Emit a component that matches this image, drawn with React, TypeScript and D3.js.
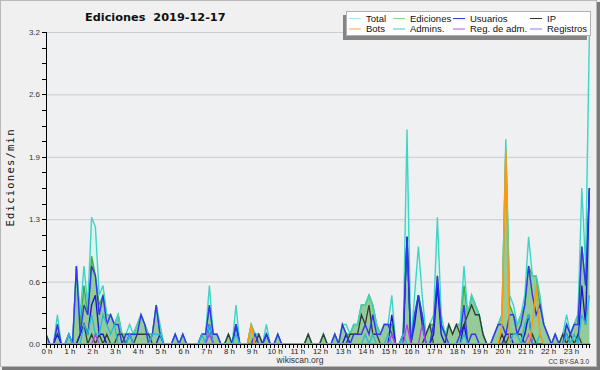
import React from "react";
import * as d3 from "d3";

const W = 600;
const H = 370;

// Tick labels
const HOUR_LABELS = d3.range(24).map((h) => `${h} h`);
const Y_TICKS = [0, 0.64, 1.28, 1.92, 2.56, 3.2];
const Y_TICK_LABELS = ["0.0", "0.6", "1.3", "1.9", "2.6", "3.2"];

// Values per 10 minutes (edits/min), 6 per hour
const total = [
  .1,0,0,.3,0,0, .1,0,.8,.3,.8,.4, 1.3,1.2,.5,.6,.3,.3, .2,.3,.1,.1,.2,.1,
  .2,.3,.2,.1,.1,.4, .2,0,0,0,.1,0, .1,0,0,0,0,.1, .1,.6,.1,.1,0,0,
  .1,0,.4,0,0,0, .2,.1,.1,0,.2,0, 0,.1,0,0,0,0, 0,0,0,.1,0,0,
  0,.1,0,0,.1,0, .2,.2,.1,.2,.2,.4, .4,.5,.4,.2,.1,.2, .2,.5,0,0,.1,2.2,
  0,.5,1.0,.5,.1,.2, .3,1.3,.3,.1,.2,.1, .2,.2,.8,.3,.5,.4, .3,.1,0,0,.1,.2,
  .3,2.1,.5,.4,.2,.3, .5,1.1,.7,.7,.5,.2, .1,0,.1,0,.1,.3, .1,.2,.3,1.6,.8,3.2,
];
const edits = [
  .1,0,0,.2,0,0, .1,0,.8,.2,.6,.3, .9,.7,.4,.5,.3,.3, .2,.3,.1,.1,.1,.1,
  .2,.3,.2,.1,.1,.4, .1,0,0,0,.1,0, .1,0,0,0,0,.1, .1,.4,.1,.1,0,0,
  .1,0,.2,0,0,0, .2,.1,.1,0,.1,0, 0,.1,0,0,0,0, 0,0,0,.1,0,0,
  0,.1,0,0,.1,0, .2,.1,.1,.2,.2,.4, .4,.5,.4,.2,.1,.2, .2,.2,0,0,.1,1.1,
  0,.3,.5,.3,.1,.2, .2,.7,.2,.1,.2,.1, .2,.2,.6,.3,.5,.4, .3,.1,0,0,.1,.2,
  .3,2.0,.4,.3,.2,.3, .4,.8,.7,.7,.4,.2, .1,0,.1,0,.1,.2, .1,.2,.3,1.0,.6,1.6,
];
const users = [
  .1,0,0,.2,0,0, .1,0,.8,.1,.4,.3, .8,.7,.3,.5,.2,.3, .2,.2,0,.1,.1,.1,
  .1,.3,.2,0,.1,.4, .1,0,0,0,.1,0, .1,0,0,0,0,.1, .1,.4,.1,.1,0,0,
  0,0,.2,0,0,0, 0,.1,0,0,.1,0, 0,.1,0,0,0,0, 0,0,0,0,0,0,
  0,0,0,0,.1,0, .2,.1,0,.1,.1,.1, .2,.1,.3,.1,.1,.2, .2,.1,0,0,.1,1.1,
  0,.3,.5,.3,0,0, .2,.7,.2,.1,0,0, 0,.1,.4,0,.1,.1, 0,0,0,0,.1,.2,
  .2,.1,.3,.3,.1,.2, .4,.8,.5,.3,.4,.2, .1,0,.1,0,0,.2, .1,.2,.2,1.0,.6,1.6,
];
const ip = [
  0,0,0,0,0,0, 0,0,0,.1,.2,0, .1,0,.1,0,.1,0, 0,.1,.1,0,0,0,
  .1,.1,.1,.1,0,0, 0,0,0,0,0,0, 0,0,0,0,0,0, 0,0,0,0,0,0,
  .1,0,0,0,0,0, 0,0,.1,0,0,0, 0,0,0,0,0,0, 0,0,0,.1,0,0,
  0,.1,0,0,0,0, 0,0,.1,.1,.1,.3, .2,.4,.1,.1,0,0, 0,0,0,0,0,0,
  0,0,0,0,.1,.2, 0,0,0,0,.2,.1, .2,.1,.2,.3,.4,.3, .3,.1,0,0,0,0,
  .1,0,.1,.1,.1,.1, 0,0,.1,0,0,0, 0,0,0,0,.1,0, .1,0,.1,0,0,0,
];
const bots = [
  0,0,0,0,0,0, 0,0,0,0,0,0, 0,0,0,0,0,0, 0,0,0,0,0,0,
  0,0,0,0,0,0, 0,0,0,0,0,0, 0,0,0,0,0,0, 0,0,0,0,0,0,
  0,0,0,0,0,0, .2,0,0,0,0,0, 0,0,0,0,0,0, 0,0,0,0,0,0,
  0,0,0,0,0,0, 0,0,0,0,0,0, 0,0,0,0,0,0, 0,0,0,0,0,0,
  0,0,0,0,0,0, 0,0,0,0,0,0, 0,0,0,0,0,0, 0,0,0,0,0,0,
  .2,2.0,0,0,0,0, 0,0,.2,.6,.1,0, 0,0,0,0,0,0, 0,0,0,0,0,0,
];
const admins = [
  0,0,0,0,0,0, .1,0,0,0,.2,.1, .3,.1,.1,.3,.2,.1, .2,0,0,0,.1,0,
  0,0,0,0,.1,.1, .1,0,0,0,0,0, 0,0,0,0,0,.1, 0,.2,0,0,0,0,
  0,0,.1,0,0,0, 0,0,0,0,0,0, 0,0,0,0,0,0, 0,0,0,0,0,0,
  0,0,0,0,0,0, 0,0,0,0,0,0, .1,0,.1,0,0,0, .1,0,0,0,.1,0,
  0,0,0,0,0,0, 0,0,0,0,0,0, 0,0,.1,0,0,0, 0,0,0,0,0,0,
  0,0,0,.1,.1,0, .2,.3,0,0,.1,0, 0,0,0,0,0,.1, 0,.1,0,.3,.2,.5,
];
const adminLogs = [
  0,0,0,0,0,0, 0,0,0,0,0,0, 0,.1,0,0,0,0, 0,0,0,0,0,0,
  0,0,0,0,0,0, 0,0,0,0,0,0, 0,0,0,0,0,0, 0,.1,0,0,0,0,
  0,0,0,0,0,0, 0,0,0,0,0,0, 0,0,0,0,0,0, 0,0,0,0,0,0,
  0,0,0,0,0,0, 0,0,0,0,0,0, 0,0,0,0,0,0, 0,.1,0,0,0,.2,
  0,0,0,.2,0,0, 0,0,0,0,0,0, 0,0,0,0,0,0, 0,0,0,0,0,0,
  0,0,0,0,0,0, 0,.1,0,0,0,0, 0,0,0,0,0,0, 0,0,0,0,0,0,
];
const logs = [
  0,0,0,.1,0,0, 0,0,0,.1,.2,.1, .4,.5,.1,.1,0,0, 0,0,0,0,.1,0,
  0,0,0,0,0,0, .1,0,0,0,0,0, 0,0,0,0,0,0, 0,.2,0,0,0,0,
  0,0,.2,0,0,0, 0,0,0,0,.1,0, 0,0,0,0,0,0, 0,0,0,0,0,0,
  0,0,0,0,0,0, 0,.1,0,0,0,0, 0,0,0,0,0,0, 0,.3,0,0,0,1.1,
  0,.2,.5,.2,0,0, .1,.6,.1,0,0,0, 0,0,.2,0,0,0, 0,0,0,0,0,0,
  0,.1,.1,0,0,0, .1,.3,0,0,0,0, 0,0,0,0,0,.1, 0,0,0,.6,.2,1.6,
];

const LEGEND_NAMES = ["Total", "Ediciones", "Usuarios", "IP", "Bots", "Admins.", "Reg. de adm.", "Registros"];
const LEGEND_COLORS = ["#a8e8e4", "#88d488", "#3a3ae8", "#333333", "#f8a040", "#3cc8d8", "#c050e8", "#8080f8"];

const X0 = 46;
const X1 = 589.4;
const Y0 = 344;
const Y1 = 32;

export default function App() {
  const n = total.length;
  const x = d3.scaleLinear().domain([0, n - 1]).range([X0, X1]);
  const y = d3.scaleLinear().domain([0, 3.2]).range([Y0, Y1]);
  const idx = d3.range(n);

  const area = (vals: number[]) =>
    d3.area<number>().x((i) => x(i)).y0(Y0).y1((i) => y(vals[i]))(idx) || "";
  const line = (vals: number[]) =>
    d3.line<number>().x((i) => x(i)).y((i) => y(vals[i]))(idx) || "";

  const minorTicks = d3.range(0, 3.2001, 0.16);
  const hourX = (h: number) => x(h * 6);

  const lineSeries: [number[], string, number][] = [
    [ip, "#333a33", 1.3],
    [logs, "#1a1acc", 1.4],
    [users, "#3434f4", 1.4],
    [admins, "#22bbdd", 1.3],
    [adminLogs, "#b840e8", 1.3],
    [bots, "#ff9a10", 1.5],
  ];

  return (
    <svg width={W} height={H} style={{ display: "block", position: "absolute", left: 0, top: 0 }}>
      <defs>
        <clipPath id="plotclip">
          <rect x={X0} y={Y1 - 1} width={X1 - X0 + 2} height={Y0 - Y1 + 1} />
        </clipPath>
      </defs>
      {/* frame */}
      <rect x={0} y={0} width={W} height={H} fill="#f0f0f0" />
      <rect x={W - 3} y={2} width={3} height={H - 2} fill="#7a7a7a" />
      <rect x={2} y={H - 3} width={W - 2} height={3} fill="#7a7a7a" />
      <rect x={0.5} y={0.5} width={W - 4} height={H - 4} fill="none" stroke="#b8b8b8" />
      {/* plot background */}
      <rect x={X0} y={Y1} width={X1 - X0 + 1} height={Y0 - Y1} fill="#eef0f2" />
      {/* grid */}
      {Y_TICKS.slice(1).map((t, k) => (
        <line key={k} x1={X0} x2={X1 + 1} y1={y(t) + 0.5} y2={y(t) + 0.5} stroke="#cccccc" strokeWidth={1} />
      ))}
      <g clipPath="url(#plotclip)">
        <path d={area(total)} fill="#d8f4f0" fillOpacity={0.85} />
        <path d={area(edits)} fill="#8cc68c" fillOpacity={0.9} />
        <path d={line(edits)} fill="none" stroke="#3aae3a" strokeWidth={1.4} />
        <path d={line(total)} fill="none" stroke="#3ed4c6" strokeWidth={1.4} />
        {lineSeries.map(([vals, color, sw], k) => (
          <path key={k} d={line(vals)} fill="none" stroke={color} strokeWidth={sw} />
        ))}
      </g>
      {/* y axis */}
      <line x1={X0 + 0.5} x2={X0 + 0.5} y1={Y1} y2={Y0 + 1} stroke="#000" strokeWidth={1} />
      {minorTicks.map((t, k) => (
        <line key={k} x1={X0 - 4} x2={X0} y1={Math.round(y(t)) + 0.5} y2={Math.round(y(t)) + 0.5} stroke="#000" />
      ))}
      {Y_TICKS.map((t, k) => (
        <text key={k} x={40} y={y(t) + 3} textAnchor="end" fontFamily="Liberation Sans, Arial, sans-serif" fontSize={8} fill="#333">
          {Y_TICK_LABELS[k]}
        </text>
      ))}
      {/* x axis */}
      <line x1={X0} x2={X1 + 1} y1={Y0 + 0.5} y2={Y0 + 0.5} stroke="#000" strokeWidth={1.2} />
      {idx.map((i) => (
        <line key={i} x1={Math.round(x(i)) + 0.5} x2={Math.round(x(i)) + 0.5} y1={Y0} y2={Y0 + 4} stroke="#000" />
      ))}
      {HOUR_LABELS.map((lab, h) => (
        <text key={h} x={hourX(h) + 1} y={353.5} textAnchor="middle" fontFamily="Liberation Sans, Arial, sans-serif" fontSize={7.8} fill="#222">
          {lab}
        </text>
      ))}
      {/* titles */}
      <text x={85} y={20.7} fontFamily="DejaVu Sans, sans-serif" fontWeight="bold" fontSize={11.3} fill="#111" style={{ whiteSpace: "pre" }}>
        {"Ediciones  2019-12-17"}
      </text>
      <text
        transform="translate(14,178) rotate(-90)"
        textAnchor="middle"
        fontFamily="DejaVu Sans Mono, monospace"
        fontSize={10.5}
        fill="#111"
        textLength={97}
        lengthAdjust="spacing"
      >
        Ediciones/min
      </text>
      <text x={300} y={363} textAnchor="middle" fontFamily="Liberation Sans, Arial, sans-serif" fontSize={8.5} fill="#333">
        wikiscan.org
      </text>
      <text x={589} y={364} textAnchor="end" fontFamily="Liberation Sans, Arial, sans-serif" fontSize={6.5} fill="#333">
        CC BY-SA 3.0
      </text>
      {/* legend */}
      <rect x={343} y={15} width={244} height={25} fill="#858585" />
      <rect x={346.5} y={11.5} width={244} height={24} fill="#ffffff" stroke="#b0b0b0" />
      {LEGEND_NAMES.map((name, k) => {
        const col = k % 4;
        const row = Math.floor(k / 4);
        const lx = [349, 393, 453, 530][col];
        const ly = row === 0 ? 18.5 : 29;
        return (
          <g key={k}>
            <line x1={lx} x2={lx + 12} y1={ly} y2={ly} stroke={LEGEND_COLORS[k]} strokeWidth={1} />
            <text x={lx + 17} y={ly + 3.3} fontFamily="Liberation Sans, Arial, sans-serif" fontSize={9.5} fill="#111">
              {name}
            </text>
          </g>
        );
      })}
    </svg>
  );
}
